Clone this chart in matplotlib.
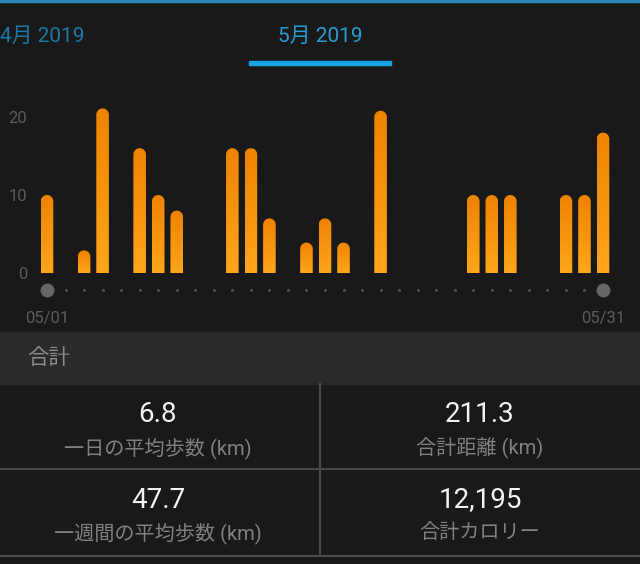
import numpy as np
import matplotlib
matplotlib.use('Agg')
import matplotlib.pyplot as plt
from matplotlib.path import Path
from matplotlib.patches import PathPatch, Rectangle
from matplotlib.colors import to_rgb

plt.rcParams['font.family'] = ['Roboto', 'Noto Sans CJK JP', 'DejaVu Sans']

# データ (5月 2019, 1日ごとの距離 km)
days = np.arange(1, 32)
distance_km = [10.0, 0, 2.9, 21.1, 0, 16.0, 10.0, 8.0, 0, 0,
               16.0, 16.0, 7.0, 0, 3.9, 7.0, 3.9, 0, 20.8, 0,
               0, 0, 0, 10.0, 10.0, 10.0, 0, 0, 10.0, 10.0, 18.0]
y_ticks = [0, 10, 20]
tab_labels = ['4月 2019', '5月 2019']
date_labels = ['05/01', '05/31']
summary_values = ['6.8', '211.3', '47.7', '12,195']
summary_labels = ['一日の平均歩数 (km)', '合計距離 (km)',
                  '一週間の平均歩数 (km)', '合計カロリー']
section_title = '合計'

W, H = 640, 564
fig = plt.figure(figsize=(6.4, 5.64), dpi=100, facecolor='#191919')
bg = fig.add_axes([0, 0, 1, 1])
bg.set_xlim(0, W)
bg.set_ylim(H, 0)
bg.axis('off')

# 上のタブ
bg.add_patch(Rectangle((0, 0), W, 2, color='#2a86bb'))
bg.text(0, 36, tab_labels[0], ha='left', va='center', fontsize=15, color='#1d78a6')
bg.text(320, 36, tab_labels[1], ha='center', va='center', fontsize=15, color='#2a9bd5')
bg.add_patch(Rectangle((249, 60.5), 142, 4.5, color='#1aa3e3'))

# グラフ領域 (ピクセル位置)
px_day = (603 - 47) / 30
px_km = 7.8
x0, x1 = 0, 32
y0, y1 = -7, 23
left = 47 + (x0 - 1) * px_day
right = 47 + (x1 - 1) * px_day
bottom = 273 - y0 * px_km
top = 273 - y1 * px_km
ax = fig.add_axes([left / W, 1 - bottom / H, (right - left) / W, (bottom - top) / H])
ax.patch.set_alpha(0)
for s in ax.spines.values():
    s.set_visible(False)

# 棒 (上が丸い + グラデーション)
half_w = 6.3 / px_day
r_y = 6.3 / px_km
t = np.linspace(0, np.pi, 30)
top_col = np.array(to_rgb('#ee8300'))
bot_col = np.array(to_rgb('#ffa61a'))
grad = top_col + np.linspace(0, 1, 256)[:, None, None] * (bot_col - top_col)
for d, v in zip(days, distance_km):
    if v <= 0:
        continue
    verts = [(d - half_w, 0), (d + half_w, 0)]
    verts += [(d + half_w * np.cos(a), v - r_y + r_y * np.sin(a)) for a in t]
    verts += [(d - half_w, 0)]
    patch = PathPatch(Path(verts, closed=True), facecolor='none', edgecolor='none',
                      transform=ax.transData)
    ax.add_patch(patch)
    im = ax.imshow(grad, extent=[d - half_w, d + half_w, 0, v], aspect='auto',
                   interpolation='bilinear', zorder=2)
    im.set_clip_path(patch)

# 日付の点
ax.scatter(days[1:-1], np.full(len(days) - 2, -2.2), s=5, color='#4e4e4e', linewidths=0)
ax.scatter([days[0], days[-1]], [-2.2, -2.2], s=100, color='#666666', linewidths=0)
ax.text(days[0], -5.8, date_labels[0], ha='center', va='center', fontsize=12, color='#5c5c5c')
ax.text(days[-1], -5.8, date_labels[1], ha='center', va='center', fontsize=12, color='#5c5c5c')

ax.set_xlim(x0, x1)
ax.set_ylim(y0, y1)
ax.set_xticks([])
ax.set_yticks(y_ticks)
ax.tick_params(axis='y', length=0, pad=1, labelsize=12, labelcolor='#5c5c5c')

# 合計セクション
bg.add_patch(Rectangle((0, 332), W, 52, color='#2a2a2a'))
bg.text(27, 359, section_title, ha='left', va='center', fontsize=15.5, color='#8c8c8c')
bg.plot([0, W], [469, 469], color='#4a4a4a', lw=1.5)
bg.plot([0, W], [555.5, 555.5], color='#4a4a4a', lw=1.5)
bg.plot([320, 320], [384, 555.5], color='#4a4a4a', lw=1.5)

cx = [158, 480, 158, 480]
vy = [415, 415, 500, 500]
for x, y, val, lab in zip(cx, vy, summary_values, summary_labels):
    bg.text(x, y, val, ha='center', va='center', fontsize=20, color='#f2f2f2')
    bg.text(x, y + 33, lab, ha='center', va='center', fontsize=14.5, color='#808080')

fig.savefig('out.png', dpi=100, facecolor=fig.get_facecolor())
